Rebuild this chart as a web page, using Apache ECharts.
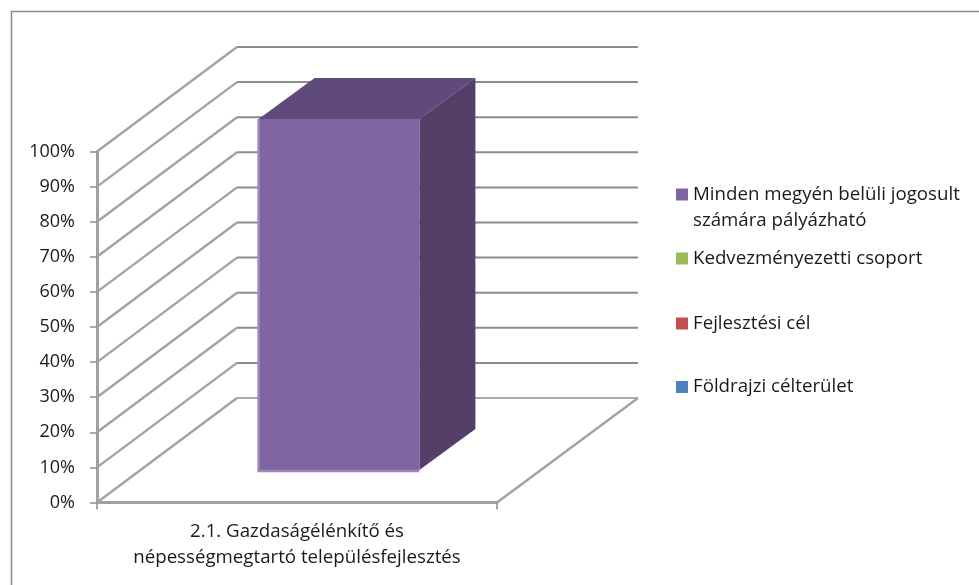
<!DOCTYPE html>
<html><head><meta charset="utf-8">
<style>html,body{margin:0;padding:0;background:#fff}#c{width:979px;height:585px}</style>
<script src="https://cdn.jsdelivr.net/npm/echarts@6/dist/echarts.min.js"></script>
</head><body><div id="c"></div>
<script>
const categories = ['2.1. Gazdaságélénkítő és\nnépességmegtartó településfejlesztés'];
const seriesNames = ['Földrajzi célterület','Fejlesztési cél','Kedvezményezetti csoport','Minden megyén belüli jogosult\nszámára pályázható'];
const foldrajzi = [0];
const fejlesztesi = [0];
const kedvezmenyezetti = [0];
const minden = [100];
const seriesColors = ['#4F81BD','#C0504D','#9BBB59','#8064A2'];
const topColors = ['#3f6797','#9a403d','#7c9647','#604A7B'];
const sideColors = ['#375a84','#863835','#6c833e','#533F68'];
const yTicks = [0,10,20,30,40,50,60,70,80,90,100];
const seriesValues = [foldrajzi,fejlesztesi,kedvezmenyezetti,minden];

// projection of the 3D depth, in pixels
const wallDX = 140, wallDY = -104.5;
const barDX = 42, barDY = -32.5;
const barDepthX = 56, barDepthY = -41;
const barFrac = 0.402;
const fontFam = '"Open Sans", Lato, sans-serif';
const fontSize = 18.7;
const tickFontSize = 18;
const textColor = '#1a1a1a';

function wallItem(params, api){
  const v = api.value(0);
  const p = api.coord([0, v]);
  const w = api.size([1,0])[0];
  const x0 = p[0]-w/2, y = p[1];
  const a = [x0,y], b=[x0+wallDX,y+wallDY], c=[x0+w+wallDX+1,y+wallDY];
  const children = [
    {type:'line',shape:{x1:a[0],y1:a[1],x2:b[0],y2:b[1]},style:{stroke:'#a3a3a3',lineWidth:2.4}},
    {type:'line',shape:{x1:b[0],y1:b[1],x2:c[0],y2:c[1]},style:{stroke:'#8c8c8c',lineWidth:v===0?1.6:2}}
  ];
  if(v===0){
    children.push({type:'line',shape:{x1:x0+w,y1:y,x2:c[0],y2:c[1]},style:{stroke:'#a3a3a3',lineWidth:2.4}});
  }
  return {type:'group',children};
}

function barItem(idx){
  return function(params, api){
    const catIdx = api.value(0), base = api.value(1), val = api.value(2);
    if(!val) return null;
    const p0 = api.coord([catIdx, base]);
    const p1 = api.coord([catIdx, base+val]);
    const w = api.size([1,0])[0]*barFrac;
    const l = p0[0]-w/2+barDX, r = l+w;
    const b = p0[1]+barDY, t = p1[1]+barDY;
    const dx = barDepthX, dy = barDepthY;
    return {type:'group',children:[
      {type:'polygon',shape:{points:[[r,t],[r+dx,t+dy],[r+dx,b+dy],[r,b]]},style:{fill:sideColors[idx]}},
      {type:'polygon',shape:{points:[[l,t],[l+dx,t+dy],[r+dx,t+dy],[r,t]]},style:{fill:topColors[idx]}},
      {type:'rect',shape:{x:l,y:t,width:w,height:b-t},style:{fill:seriesColors[idx]}},
      {type:'polyline',shape:{points:[[l,t],[l,b+1],[r,b+1]]},style:{stroke:'#9d89b9',lineWidth:2.5,fill:null}}
    ]};
  };
}

let cum = categories.map(()=>0);
const barSeries = seriesNames.map((name,i)=>{
  const data = categories.map((c,j)=>{ const d=[j,cum[j],seriesValues[i][j]]; cum[j]+=seriesValues[i][j]; return d; });
  return {name,type:'custom',z:5,clip:false,silent:true,itemStyle:{color:seriesColors[i]},
    encode:{x:0,y:2},renderItem:barItem(i),data};
});
const wallSeries = {type:'custom',z:1,clip:false,silent:true,
  encode:{y:0},renderItem:wallItem,data:yTicks.map(v=>[v])};

const legendTops = [374,310.5,245.5,155.5];
const legends = seriesNames.map((name,i)=>({
  data:[name],left:676,top:legendTops[i],orient:'vertical',
  icon:'rect',itemWidth:12,itemHeight:12,itemGap:0,padding:0,selectedMode:false,
  formatter:n=>n.includes('\n')?'\n'+n:n,
  textStyle:{fontFamily:fontFam,fontSize:fontSize,color:textColor,lineHeight:26}
}));

const chart = echarts.init(document.getElementById('c'),null,{renderer:'canvas'});
chart.setOption({
  animation:false,
  backgroundColor:'#fff',
  legend:legends,
  grid:{left:97,top:151.5,width:400,height:351,containLabel:false},
  xAxis:{type:'category',data:categories,
    axisLine:{lineStyle:{color:'#a0a0a0',width:3}},
    axisTick:{show:true,alignWithLabel:false,length:7,lineStyle:{color:'#8c8c8c',width:1.5}},
    axisLabel:{fontFamily:fontFam,fontSize:fontSize,color:textColor,lineHeight:26,margin:16,interval:0}
  },
  yAxis:{type:'value',min:0,max:100,interval:10,
    axisLine:{show:true,lineStyle:{color:'#a0a0a0',width:3}},
    axisTick:{show:true,length:7,lineStyle:{color:'#8c8c8c',width:1.5}},
    splitLine:{show:false},
    axisLabel:{fontFamily:fontFam,fontSize:tickFontSize,color:textColor,formatter:'{value}%',margin:22,padding:[3,0,0,0]}
  },
  graphic:[{type:'rect',z:-1,shape:{x:11.5,y:11.5,width:1000,height:620},style:{fill:null,stroke:'#8c8c8c',lineWidth:1.5}}],
  series:[wallSeries].concat(barSeries)
});
</script></body></html>
